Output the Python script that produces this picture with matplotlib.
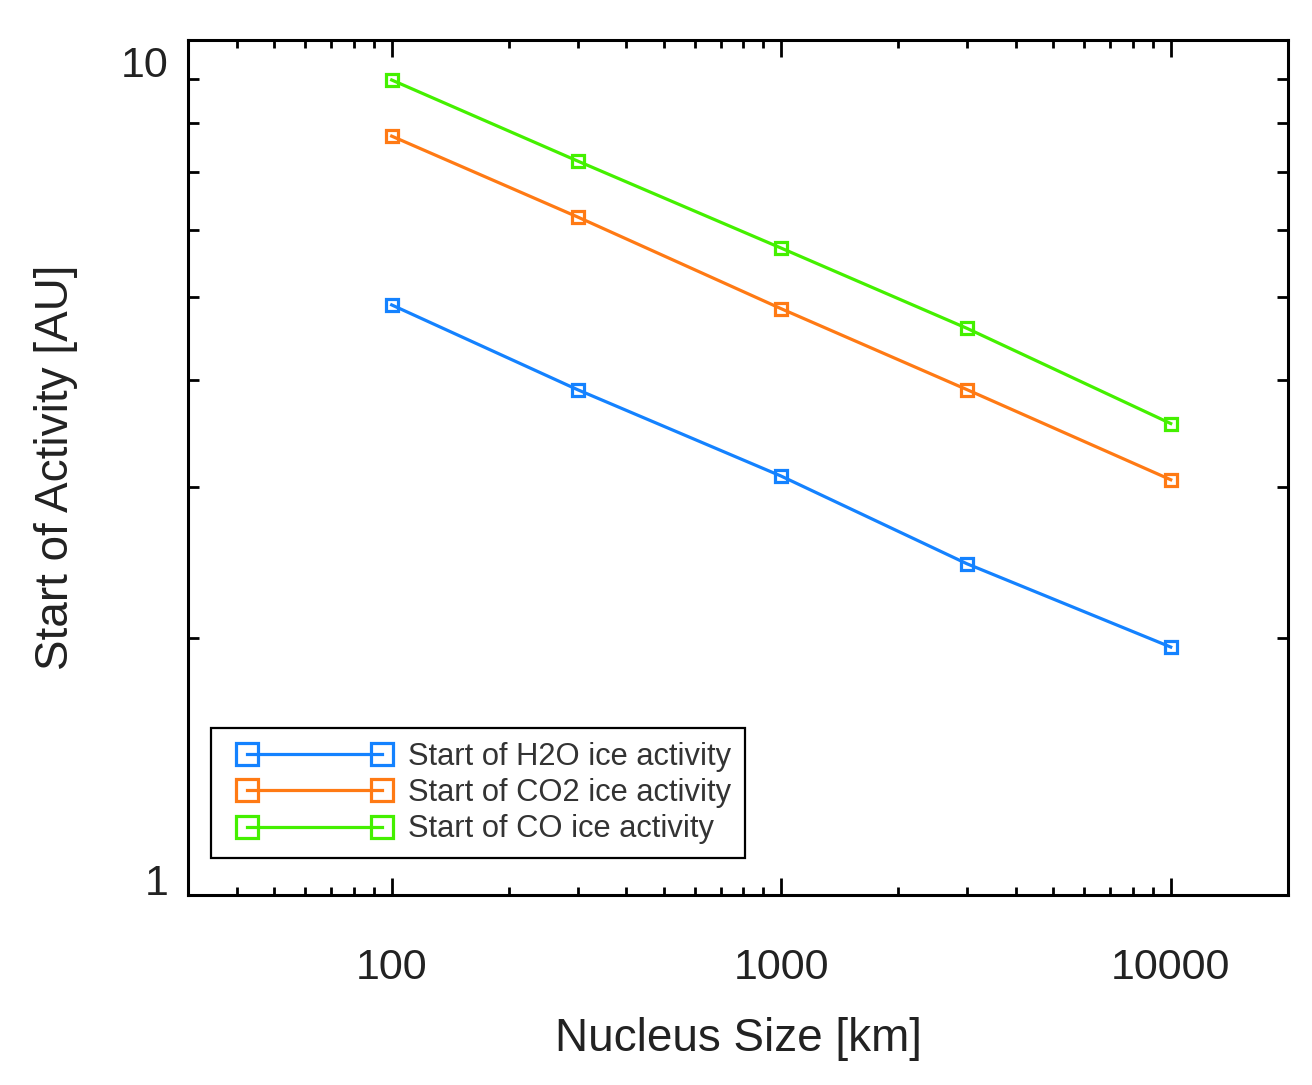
import matplotlib
matplotlib.use("Agg")
import matplotlib.pyplot as plt
import matplotlib.ticker as mtick
from matplotlib.transforms import ScaledTranslation
from matplotlib.lines import Line2D
from matplotlib.legend_handler import HandlerLine2D

plt.rcParams['font.family'] = ['Liberation Sans', 'DejaVu Sans']

# nucleus sizes [km]
sizes = [100, 300, 1000, 3000, 10000]

# start of activity [AU]
h2o = [4.90, 3.90, 3.09, 2.44, 1.95]
co2 = [7.72, 6.21, 4.85, 3.90, 3.06]
co = [8.98, 7.22, 5.71, 4.60, 3.56]

labels = ["Start of H2O ice activity", "Start of CO2 ice activity", "Start of CO ice activity"]
colors = ["#1482ff", "#ff7a14", "#44f000"]

fig = plt.figure(figsize=(13.12, 10.85), dpi=100)
ax = fig.add_axes([0.1433, 0.1751, 0.8384, 0.7880])

for ys, lab, c in zip([h2o, co2, co], labels, colors):
    ax.plot(sizes, ys, color=c, lw=2.3, marker='s', ms=9, mfc='none', mec=c, mew=2.3, label=lab)

ax.set_xscale('log')
ax.set_yscale('log')
ax.set_xlim(30, 20000)
ax.set_ylim(1, 10)

ax.xaxis.set_major_locator(mtick.FixedLocator([100, 1000, 10000]))
ax.xaxis.set_major_formatter(mtick.FixedFormatter(["100", "1000", "10000"]))
ax.xaxis.set_minor_locator(mtick.LogLocator(base=10, subs=range(2, 10), numticks=20))
ax.xaxis.set_minor_formatter(mtick.NullFormatter())
ax.yaxis.set_major_locator(mtick.FixedLocator([1, 10]))
ax.yaxis.set_major_formatter(mtick.FixedFormatter(["1", "10"]))
ax.yaxis.set_minor_locator(mtick.LogLocator(base=10, subs=range(2, 10), numticks=20))
ax.yaxis.set_minor_formatter(mtick.NullFormatter())

ax.tick_params(which='both', direction='in', top=True, right=True, width=2, colors='black', labelcolor='#222222')
ax.tick_params(axis='x', which='major', length=12, labelsize=31, pad=38)
ax.tick_params(axis='x', which='minor', length=6)
ax.tick_params(axis='y', which='major', length=12, labelsize=31, pad=14)
ax.tick_params(axis='y', which='minor', length=8)
for s in ax.spines.values():
    s.set_linewidth(2.2)

fig.canvas.draw()
yl = ax.yaxis.get_majorticklabels()
yl[0].set_va('baseline')
yl[1].set_va('top')
yl[1].set_transform(yl[1].get_transform() + ScaledTranslation(0, -0.06, fig.dpi_scale_trans))

ax.set_xlabel("Nucleus Size [km]", fontsize=33, color='#222222')
ax.set_ylabel("Start of Activity [AU]", fontsize=33, color='#222222')
ax.xaxis.set_label_coords(0.5, -0.143)
ax.yaxis.set_label_coords(-0.1, 0.5)

leg = ax.legend(loc='lower left', bbox_to_anchor=(0.021, 0.043), borderaxespad=0,
                fontsize=22.2, numpoints=2, handlelength=5.8, handletextpad=0.15,
                borderpad=0.45, labelspacing=0.2, markerscale=1.7,
                fancybox=False, framealpha=1, edgecolor='black',
                handler_map={Line2D: HandlerLine2D(marker_pad=0.7)})
leg.get_frame().set_linewidth(1.6)
for t in leg.get_texts():
    t.set_color('#333333')

fig.savefig("out.png", dpi=100)
